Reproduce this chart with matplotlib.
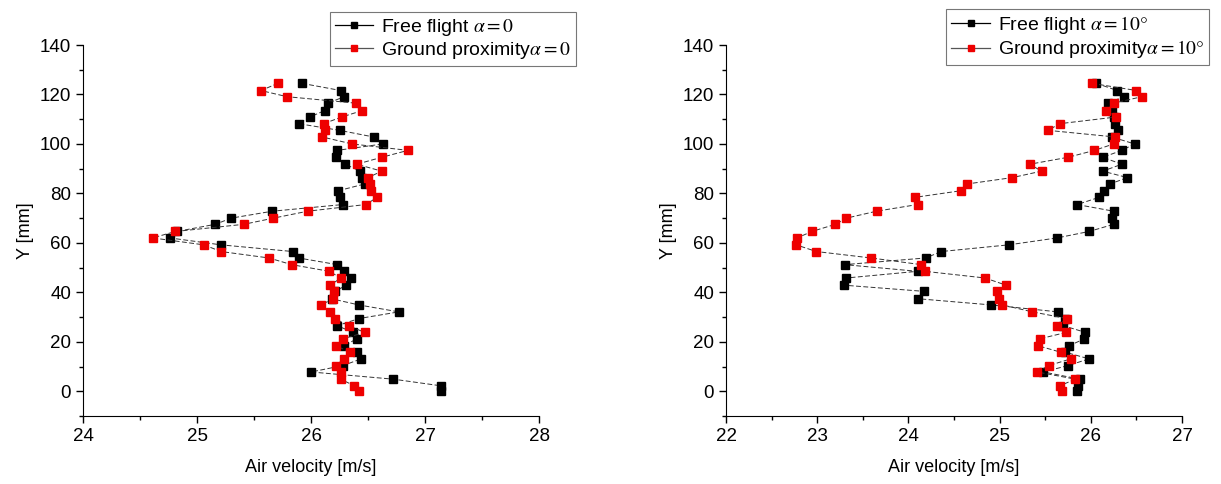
import matplotlib
matplotlib.use("Agg")
import matplotlib.pyplot as plt
from matplotlib.lines import Line2D
from matplotlib.ticker import MultipleLocator

plt.rcParams['font.family'] = ['Liberation Sans', 'DejaVu Sans']
plt.rcParams['mathtext.fontset'] = 'stix'

# measurement heights [mm], shared by all series
y_mm = [124.5, 121.6, 119.1, 116.5, 113.5, 110.9, 108.2, 105.5, 102.8, 100.0,
        97.4, 94.6, 91.8, 89.0, 86.4, 83.8, 81.1, 78.4, 75.5, 72.8,
        70.0, 67.5, 64.6, 62.0, 59.2, 56.5, 53.9, 51.2, 48.5, 45.8,
        42.9, 40.4, 37.4, 34.9, 32.1, 29.4, 26.5, 23.8, 21.2, 18.4,
        15.8, 13.1, 10.4, 7.8, 4.9, 2.2, 0.2]

# alpha = 0
free_a0 = [25.92, 26.26, 26.29, 26.15, 26.12, 25.99, 25.89, 26.25, 26.55, 26.63,
           26.23, 26.22, 26.30, 26.43, 26.45, 26.47, 26.24, 26.25, 26.28, 25.66,
           25.30, 25.16, 24.82, 24.76, 25.21, 25.84, 25.89, 26.23, 26.29, 26.35,
           26.31, 26.21, 26.18, 26.42, 26.77, 26.42, 26.23, 26.37, 26.40, 26.29,
           26.40, 26.44, 26.28, 26.00, 26.72, 27.14, 27.14]
ground_a0 = [25.71, 25.56, 25.79, 26.39, 26.45, 26.27, 26.11, 26.12, 26.10, 26.36,
             26.85, 26.62, 26.40, 26.62, 26.50, 26.52, 26.53, 26.58, 26.48, 25.97,
             25.67, 25.41, 24.81, 24.61, 25.06, 25.21, 25.63, 25.83, 26.16, 26.26,
             26.17, 26.20, 26.19, 26.09, 26.17, 26.21, 26.33, 26.47, 26.28, 26.22,
             26.34, 26.29, 26.22, 26.26, 26.26, 26.38, 26.42]

# alpha = 10 deg
free_a10 = [26.06, 26.29, 26.36, 26.19, 26.23, 26.25, 26.27, 26.30, 26.23, 26.48,
            26.34, 26.13, 26.34, 26.13, 26.40, 26.21, 26.14, 26.09, 25.85, 26.25,
            26.23, 26.25, 25.98, 25.63, 25.10, 24.36, 24.19, 23.30, 24.10, 23.32,
            23.29, 24.17, 24.11, 24.91, 25.64, 25.72, 25.70, 25.94, 25.93, 25.76,
            25.72, 25.98, 25.75, 25.48, 25.88, 25.86, 25.85]
ground_a10 = [26.01, 26.50, 26.56, 26.25, 26.17, 26.28, 25.66, 25.53, 26.27, 26.25,
              26.04, 25.75, 25.33, 25.46, 25.14, 24.64, 24.58, 24.07, 24.10, 23.65,
              23.32, 23.20, 22.94, 22.78, 22.77, 22.99, 23.59, 24.14, 24.18, 24.84,
              25.07, 24.97, 24.99, 25.03, 25.36, 25.74, 25.63, 25.73, 25.44, 25.42,
              25.67, 25.78, 25.54, 25.41, 25.83, 25.66, 25.68]

fig = plt.figure(figsize=(12.21, 4.84), dpi=100)
ax1 = fig.add_axes([0.068, 0.1405, 0.3735, 0.7665])
ax2 = fig.add_axes([0.5946, 0.1405, 0.3735, 0.7665])

line_kw = dict(ls=(0, (5, 2.5)), lw=0.7, color='#333333', marker='s', ms=6.2)
red = '#ee0000'


def draw(ax, free, ground, lab_free, lab_ground, xlim, legend_xy):
    ax.plot(free, y_mm, mfc='black', mec='black', **line_kw)
    ax.plot(ground, y_mm, mfc=red, mec=red, **line_kw)
    ax.set_xlim(*xlim)
    ax.set_ylim(-10, 140)
    ax.xaxis.set_major_locator(MultipleLocator(1))
    ax.xaxis.set_minor_locator(MultipleLocator(0.5))
    ax.yaxis.set_minor_locator(MultipleLocator(10))
    ax.set_yticks([0, 20, 40, 60, 80, 100, 120, 140])
    for s in ['top', 'right']:
        ax.spines[s].set_visible(False)
    ax.tick_params(which='major', direction='out', length=5, width=1.0, labelsize=13.5)
    ax.tick_params(which='minor', direction='out', length=3, width=1.0)
    ax.set_xlabel('Air velocity [m/s]', fontsize=13, labelpad=10)
    ax.set_ylabel('Y [mm]', fontsize=13, labelpad=4)

    # legend entries: short solid line with a square in the middle
    h_free = Line2D([], [], color='black', lw=0.9, marker='s', ms=5, mfc='black', mec='black')
    h_ground = Line2D([], [], color='#555555', lw=0.9, marker='s', ms=5, mfc=red, mec=red)
    leg = fig.legend([h_free, h_ground], [lab_free, lab_ground], loc='upper left',
                     bbox_to_anchor=legend_xy, bbox_transform=fig.transFigure,
                     fontsize=14, frameon=True, fancybox=False, framealpha=1,
                     edgecolor='#777777', handlelength=2.0, handletextpad=0.4,
                     borderpad=0.25, labelspacing=0.12, borderaxespad=0)
    leg.get_frame().set_linewidth(0.8)


draw(ax1, free_a0, ground_a0, r'Free flight $\alpha = 0$',
     r'Ground proximity$\alpha = 0$', (24, 28), (0.270, 0.975))
draw(ax2, free_a10, ground_a10, r'Free flight $\alpha = 10°$',
     r'Ground proximity$\alpha = 10°$', (22, 27), (0.775, 0.981))

fig.savefig('out.png', dpi=100)
